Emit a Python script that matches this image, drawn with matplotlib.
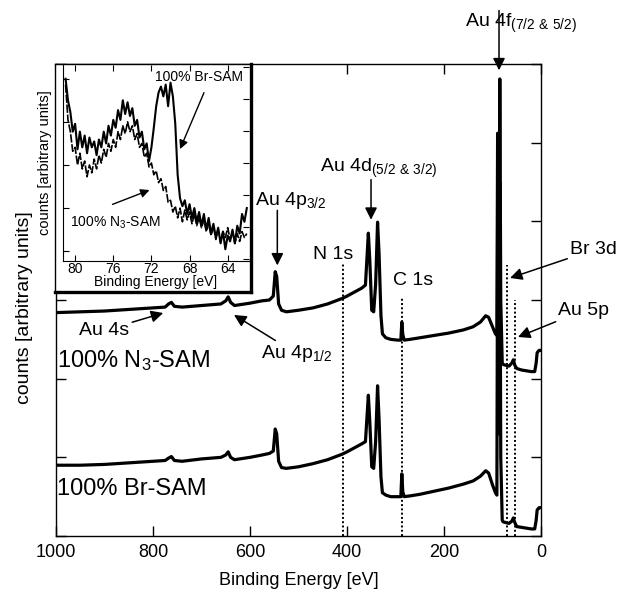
import matplotlib.pyplot as plt
import numpy as np

plt.rcParams['font.family'] = ['Liberation Sans', 'DejaVu Sans']
plt.rcParams['mathtext.fontset'] = 'custom'
plt.rcParams['mathtext.rm'] = 'Liberation Sans'
plt.rcParams['mathtext.default'] = 'regular'

# survey spectra, binding energy [eV] and stacked counts (arb. units)
energy = [1000, 950, 900, 850, 800, 775, 768, 762, 756, 740, 700, 660, 650, 645,
          640, 632, 600, 575, 560, 552, 548, 545, 541, 535, 525, 500, 470, 440,
          410, 400, 385, 370, 362, 356, 353, 349, 345, 341, 337, 334, 330, 327,
          320, 310, 295, 289, 287, 285, 282, 270, 250, 220, 190, 160, 140, 125,
          114, 108, 100, 94, 91, 89.5, 88, 86.5, 85, 83, 80, 78, 72, 66, 60, 57,
          54, 50, 40, 30, 20, 13, 10, 8, 4, 1]
n3_counts = [2.84, 2.85, 2.86, 2.88, 2.90, 2.91, 2.95, 2.97, 2.92, 2.91, 2.93, 2.95,
             2.99, 3.04, 2.97, 2.93, 2.96, 2.99, 3.00, 3.05, 3.36, 3.30, 2.95, 2.87,
             2.85, 2.87, 2.90, 2.95, 3.02, 3.05, 3.10, 3.15, 3.19, 3.85, 3.50, 2.87,
             2.85, 3.20, 3.99, 3.60, 2.80, 2.57, 2.52, 2.50, 2.49, 2.49, 2.72, 2.56,
             2.49, 2.50, 2.52, 2.55, 2.58, 2.62, 2.66, 2.72, 2.80, 2.78, 2.66, 2.57,
             2.55, 5.12, 3.20, 3.00, 5.81, 3.00, 2.20, 2.18, 2.17, 2.16, 2.20, 2.24,
             2.17, 2.13, 2.11, 2.10, 2.09, 2.09, 2.20, 2.33, 2.36, 2.36]
br_counts = [0.90, 0.90, 0.91, 0.93, 0.95, 0.96, 0.99, 1.01, 0.96, 0.95, 0.98, 1.00,
             1.03, 1.07, 1.00, 0.97, 1.00, 1.03, 1.05, 1.08, 1.36, 1.30, 0.95, 0.87,
             0.86, 0.88, 0.92, 0.97, 1.04, 1.07, 1.12, 1.17, 1.20, 1.79, 1.45, 0.88,
             0.86, 1.20, 1.91, 1.50, 0.75, 0.55, 0.52, 0.50, 0.50, 0.50, 0.79, 0.56,
             0.50, 0.51, 0.53, 0.57, 0.61, 0.66, 0.70, 0.76, 0.83, 0.80, 0.65, 0.55,
             0.52, 4.00, 1.50, 1.30, 4.50, 1.00, 0.20, 0.18, 0.17, 0.16, 0.19, 0.23,
             0.17, 0.12, 0.11, 0.10, 0.09, 0.09, 0.20, 0.33, 0.36, 0.36]

# peak marker lines: (energy, top of dotted line)
marker_e = [408, 287.6, 71, 54.6]
marker_top = [3.47, 3.04, 3.44, 3.0]

# inset: Br 3d region, high resolution
inset_e = list(np.arange(81.0, 61.99, -0.25))
inset_br = [0.93, 0.82, 0.76, 0.66, 0.70, 0.57, 0.66, 0.58, 0.64, 0.55, 0.63, 0.58,
            0.61, 0.54, 0.62, 0.58, 0.66, 0.60, 0.69, 0.64, 0.72, 0.68, 0.77, 0.72,
            0.82, 0.75, 0.81, 0.74, 0.78, 0.69, 0.72, 0.63, 0.66, 0.57, 0.60, 0.51,
            0.58, 0.68, 0.79, 0.86, 0.89, 0.84, 0.90, 0.79, 0.91, 0.84, 0.70, 0.44,
            0.32, 0.28, 0.31, 0.24, 0.29, 0.22, 0.27, 0.20, 0.25, 0.18, 0.24, 0.16,
            0.22, 0.14, 0.19, 0.12, 0.17, 0.09, 0.15, 0.06, 0.13, 0.10, 0.16, 0.09,
            0.18, 0.14, 0.24, 0.20, 0.27]
inset_n3 = [0.90, 0.72, 0.66, 0.56, 0.58, 0.49, 0.55, 0.47, 0.51, 0.43, 0.49, 0.45,
            0.52, 0.47, 0.54, 0.50, 0.57, 0.53, 0.60, 0.56, 0.62, 0.58, 0.66, 0.62,
            0.69, 0.65, 0.71, 0.66, 0.69, 0.62, 0.65, 0.58, 0.60, 0.53, 0.55, 0.48,
            0.50, 0.44, 0.46, 0.40, 0.42, 0.36, 0.38, 0.30, 0.31, 0.25, 0.28, 0.22,
            0.27, 0.20, 0.26, 0.21, 0.25, 0.19, 0.24, 0.18, 0.22, 0.17, 0.21, 0.15,
            0.19, 0.13, 0.18, 0.11, 0.16, 0.10, 0.15, 0.12, 0.17, 0.11, 0.15, 0.09,
            0.14, 0.10, 0.15, 0.12, 0.14]

fig = plt.figure(figsize=(6.21, 5.90), dpi=100)
ax = fig.add_axes([0.0902, 0.0915, 0.781, 0.80])

ax.plot(energy, br_counts, color='k', lw=2.3)
ax.plot(energy, n3_counts, color='k', lw=2.3)
for e, top in zip(marker_e, marker_top):
    ax.plot([e, e], [0, top], color='k', lw=1.4, ls=(0, (1, 1.2)))

ax.set_xlim(1000, 0)
ax.set_ylim(0, 6)
ax.set_xticks([1000, 800, 600, 400, 200, 0])
ax.set_yticks(range(7))
ax.set_yticklabels([])
ax.tick_params(direction='in', length=7, width=1, top=True, right=True,
               labelsize=13, pad=6)
for s in ax.spines.values():
    s.set_linewidth(1)
ax.set_xlabel('Binding Energy [eV]', fontsize=13, labelpad=8)
ax.set_ylabel('counts [arbitrary units]', fontsize=14)
ax.yaxis.set_label_coords(-0.048, 0.484)

arrow = dict(arrowstyle='-|>', color='k', lw=1.1, mutation_scale=18,
             shrinkA=0, shrinkB=0)
lab = dict(fontsize=14, va='baseline', ha='left', annotation_clip=False)

ax.annotate('', xy=(86.6, 5.92), xytext=(86.6, 6.68), arrowprops=arrow,
            annotation_clip=False)
ax.text(156.7, 6.47, 'Au 4f$_{(7/2\\ &\\ 5/2)}$', fontsize=14, va='baseline', clip_on=False)
ax.annotate('', xy=(350.5, 4.02), xytext=(350.5, 4.53), arrowprops=arrow)
ax.text(455.7, 4.63, 'Au 4d$_{(5/2\\ &\\ 3/2)}$', fontsize=14, va='baseline')
ax.annotate('', xy=(543.7, 3.44), xytext=(543.7, 4.14), arrowprops=arrow)
ax.text(589.7, 4.21, 'Au 4p$_{3/2}$', fontsize=14, va='baseline')
ax.text(470, 3.52, 'N 1s', fontsize=14, va='baseline')
ax.text(305, 3.19, 'C 1s', fontsize=14, va='baseline')
ax.annotate('Br 3d', xy=(63.9, 3.28), xytext=(-60, 3.58), arrowprops=arrow, **lab)
ax.annotate('Au 5p', xy=(47.4, 2.53), xytext=(-35, 2.81), arrowprops=arrow, **lab)
ax.annotate('Au 4s', xy=(779, 2.835), xytext=(952, 2.555), arrowprops=arrow, **lab)
ax.annotate('Au 4p$_{1/2}$', xy=(633, 2.81), xytext=(577, 2.26), arrowprops=arrow, **lab)
ax.text(998, 2.15, '100% N$_3$-SAM', fontsize=17, va='baseline')
ax.text(998, 0.52, '100% Br-SAM', fontsize=17, va='baseline')

# inset frame with shadowed right / bottom edge
fr = fig.add_axes([0.0886, 0.5051, 0.3156, 0.3864])
fr.set_xticks([])
fr.set_yticks([])
fr.spines['left'].set_linewidth(1)
fr.spines['top'].set_linewidth(1)
fr.spines['right'].set_linewidth(2.4)
fr.spines['bottom'].set_linewidth(2.4)

ins = fig.add_axes([0.101, 0.5576, 0.2995, 0.3322])
ins.patch.set_alpha(0)
ins.plot(inset_e, inset_n3, color='k', lw=1.2, ls=(0, (5, 1)))
ins.plot(inset_e, inset_br, color='k', lw=1.5)
ins.set_xlim(81.3, 61.8)
ins.set_ylim(0, 1)
ins.set_xticks([80, 76, 72, 68, 64])
ins.set_yticks([0.05, 0.27, 0.49, 0.71, 0.93])
ins.set_yticklabels([])
ins.tick_params(direction='in', length=4, width=0.8, top=True, labelsize=10, pad=1)
ins.spines['top'].set_visible(False)
ins.spines['right'].set_visible(False)
for s in ['left', 'bottom']:
    ins.spines[s].set_linewidth(0.8)
ins.set_xlabel('Binding Energy [eV]', fontsize=10, labelpad=-1)
ins.set_ylabel('counts [arbitrary units]', fontsize=10.5, labelpad=7)
tw = ins.twinx()
tw.set_ylim(0, 1)
tw.set_yticks([0.012, 0.175, 0.338, 0.501, 0.664, 0.827, 0.99])
tw.set_yticklabels([])
tw.tick_params(direction='in', length=4, width=0.8)
for s in tw.spines.values():
    s.set_visible(False)

small_arrow = dict(arrowstyle='-|>', color='k', lw=1.0, mutation_scale=13,
                   shrinkA=0, shrinkB=0)
ins.annotate('', xy=(69.0, 0.571), xytext=(66.49, 0.859), arrowprops=small_arrow)
ins.text(71.58, 0.92, '100% Br-SAM', fontsize=10, va='baseline')
ins.annotate('', xy=(72.2, 0.362), xytext=(76.08, 0.289), arrowprops=small_arrow)
ins.text(80.52, 0.175, '100% N$_3$-SAM', fontsize=10, va='baseline')

fig.savefig('out.png', dpi=100)
